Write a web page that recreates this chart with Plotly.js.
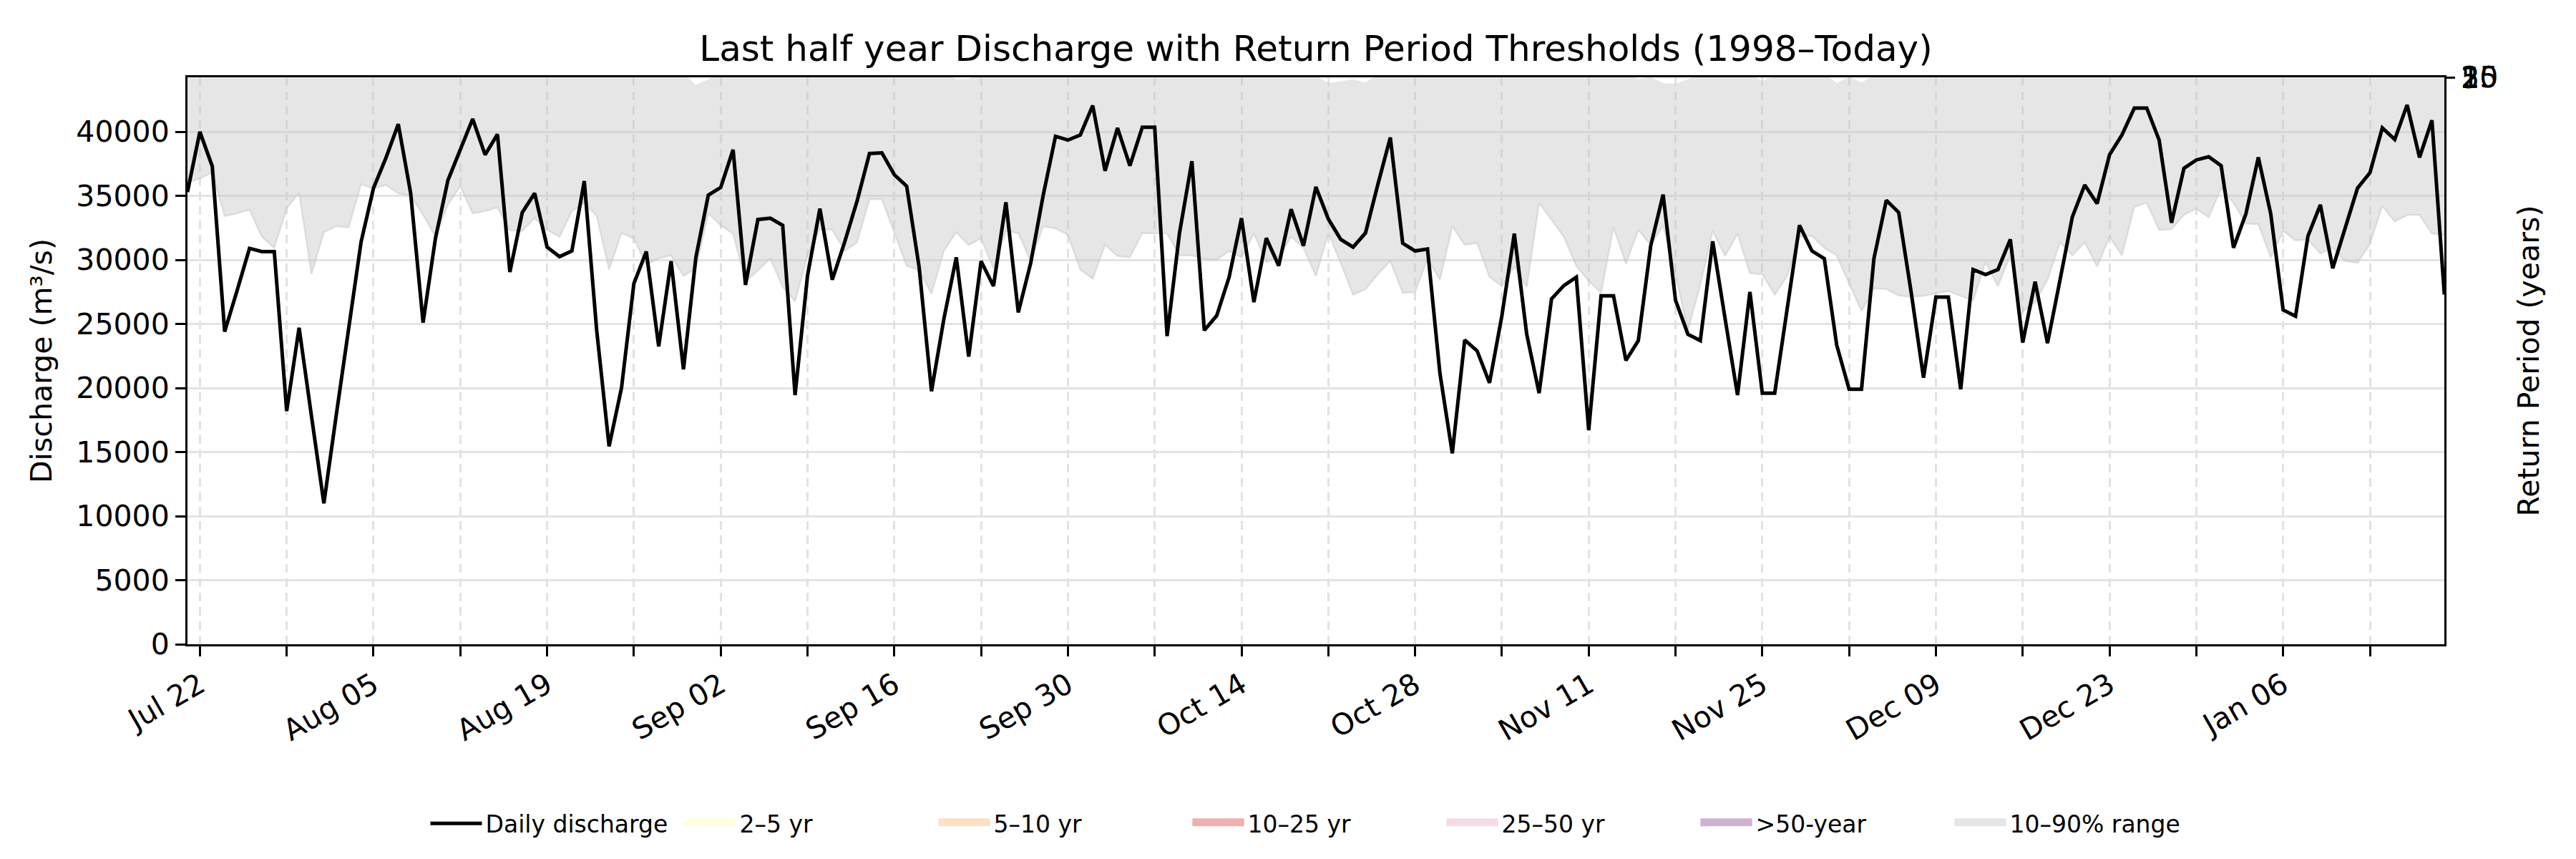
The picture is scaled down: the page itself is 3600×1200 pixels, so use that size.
<!DOCTYPE html>
<html>
<head>
<meta charset="utf-8">
<script src="https://cdn.plot.ly/plotly-3.0.1.min.js"></script>
<style>html,body{margin:0;padding:0;background:#fff;}#chart{width:3600px;height:1200px;}</style>
</head>
<body>
<div id="chart"></div>
<script>
// ---- data ----
const startDate = '2024-07-21';   // first day of the series (daily values)

const dailyDischarge = [
35300,40000,37300,24400,27600,30900,30650,30650,18200,24700,
17800,11000,17900,24600,31400,35600,37950,40600,35200,25100,
31700,36200,38550,41000,38200,39800,29050,33700,35200,31000,
30250,30700,36150,24500,15450,20000,28150,30650,23250,29900,
21450,30200,35050,35650,38600,28050,33150,33250,32700,19450,
28750,34000,28450,31400,34600,38300,38350,36650,35750,29450,
19750,25400,30200,22450,29900,27950,34500,25900,29750,35000,
39650,39350,39750,42050,36950,40300,37350,40350,40350,24050,
32100,37700,24500,25650,28650,33250,26700,31700,29550,33950,
31100,35700,33200,31600,31000,32100,35900,39550,31300,30700,
30850,21150,14900,23750,22900,20400,25650,32050,24200,19600,
26950,28000,28650,16700,27200,27200,22150,23700,31100,35100,
26850,24200,23700,31450,25400,19450,27500,19600,19600,25950,
32700,30700,30100,23350,19900,19900,30100,34650,33700,27500,
20800,27100,27100,19900,29250,28850,29250,31600,23550,28300,
23500,28400,33350,35850,34400,38200,39750,41850,41850,39350,
32900,37150,37800,38050,37350,30950,33600,38000,33600,26100,
25600,31850,34300,29350,32450,35600,36800,40300,39400,42100,
38000,40900,27300
];

const p10 = [
36050,36340,36840,33420,33630,33920,31810,30940,34010,35260,
28890,32160,32630,32540,35910,35560,35850,35180,35030,33510,
31810,34300,35760,33630,33800,34100,32300,32250,33270,32340,
31810,33800,34450,33420,29240,32100,31670,29620,30120,30350,
28740,29330,33630,32690,32050,28310,29180,30120,27870,26780,
30350,32400,32350,30700,31370,34740,34740,32100,29530,29180,
27370,30700,32160,31170,31670,29330,32250,32100,29910,32630,
32460,31960,29240,28540,31170,30290,30200,32100,32080,32050,
30350,30350,30060,30000,30700,30200,32050,29820,30200,31810,
30940,28740,32110,29770,27280,27720,28890,29910,27430,27490,
30120,28450,32630,31170,31320,28660,27950,29470,27870,34450,
33130,31810,29530,28360,27430,32540,29710,32340,31170,32690,
28890,24500,28070,32250,30290,32050,28950,28890,27280,28740,
31810,31870,30940,30350,28160,26020,27780,27720,27220,27130,
27190,27370,27570,27190,26840,29820,27950,30350,25960,26700,
28450,31370,30350,31370,29470,31810,30350,34150,34450,32340,
32400,33510,34000,33330,35610,34450,32840,32780,30200,32250,
31520,31580,30500,30940,29910,29770,31230,34210,32980,33510,
33510,32050,31960
];

const p90 = [
46500,47000,47500,46000,45800,45600,45500,45200,45600,46000,
45300,45500,45800,45900,46800,47200,47400,47100,46900,46400,
45900,46500,47000,46600,46700,46800,45700,45600,46000,45800,
45500,46000,46300,46000,45000,45500,45300,44800,45000,45100,
44600,43650,44100,44700,45200,44800,45000,45300,44900,44600,
45200,45700,45600,45100,45300,46400,46500,45700,45000,44800,
44700,44600,44100,44150,44600,44500,45200,45300,44900,45600,
45900,46000,45300,45100,45800,45500,45400,45900,45900,45700,
45100,45000,44900,44800,45000,44900,45400,44800,44700,45000,
44600,44400,43800,43950,44100,43850,44500,44800,44600,44700,
45200,44900,45600,45300,45200,44700,44600,44800,44600,45600,
45300,45000,44600,44500,44400,44600,44500,44100,44300,43800,
43750,44100,44600,45100,44800,45000,44500,43950,44400,44600,
45100,44900,44600,43800,44300,43850,44400,44600,44500,44600,
44500,44600,44700,44500,44500,45100,44700,45200,44500,44700,
45200,45800,45600,45800,45400,46000,45900,46600,46700,46100,
46200,46500,46700,46400,47000,46800,46200,46100,45500,45900,
45600,45600,45300,45400,45100,45100,45600,46400,46000,46300,
46300,45900,45800
];

const returnPeriodNames = ['2\u20135 yr','5\u201310 yr','10\u201325 yr','25\u201350 yr','>50-year'];
const returnPeriodFill  = ['#ffffdf','#fde1c4','#efb0b0','#f5dbe7','#cfb2d3'];
const returnPeriodTicks = ['2','5','10','25','50'];
const bandName = '10\u201390% range';
const bandFill = '#e6e6e6';

const weekTickVals = [
'2024-07-22','2024-07-29','2024-08-05','2024-08-12','2024-08-19','2024-08-26',
'2024-09-02','2024-09-09','2024-09-16','2024-09-23','2024-09-30','2024-10-07',
'2024-10-14','2024-10-21','2024-10-28','2024-11-04','2024-11-11','2024-11-18',
'2024-11-25','2024-12-02','2024-12-09','2024-12-16','2024-12-23','2024-12-30',
'2025-01-06','2025-01-13'
];
const weekTickText = [
'Jul 22','','Aug 05','','Aug 19','','Sep 02','','Sep 16','','Sep 30','',
'Oct 14','','Oct 28','','Nov 11','','Nov 25','','Dec 09','','Dec 23','',
'Jan 06',''
];

// ---- dates ----
function isoDay(base, k){
  const d = new Date(base + 'T00:00:00Z');
  d.setUTCDate(d.getUTCDate() + k);
  return d.toISOString().slice(0,10);
}
const dates = dailyDischarge.map((_, i) => isoDay(startDate, i));

const FONT = 'DejaVu Sans, Liberation Sans, sans-serif';

const traces = [];
// 10-90% band
traces.push({
  x: dates, y: p90, type: 'scatter', mode: 'lines', legendgroup: 'band',
  line: {width: 0, color: 'rgba(0,0,0,0)'}, showlegend: false, hoverinfo: 'skip'
});
traces.push({
  x: dates, y: p10, type: 'scatter', mode: 'lines', name: bandName, legendgroup: 'band',
  fill: 'tonexty', fillcolor: 'rgba(195,195,195,0.42)', showlegend: false,
  line: {width: 2.5, color: 'rgba(195,195,195,0.45)'}
});
// return period classes (legend entries; no day reaches them in this window)
returnPeriodNames.forEach((nm, i) => {
  traces.push({
    x: [dates[0]], y: [null], type: 'scatter', mode: 'lines', name: nm,
    fill: 'toself', fillcolor: returnPeriodFill[i],
    line: {width: 10, color: returnPeriodFill[i]}, yaxis: 'y2', legendrank: 2 + i
  });
});
// legend key of the band
traces.push({
  x: [dates[0]], y: [null], type: 'scatter', mode: 'lines', name: bandName, legendgroup: 'band',
  fill: 'toself', fillcolor: bandFill, line: {width: 10, color: bandFill},
  yaxis: 'y2', legendrank: 7
});
// daily discharge
traces.push({
  x: dates, y: dailyDischarge, type: 'scatter', mode: 'lines', name: 'Daily discharge',
  line: {color: '#000000', width: 5}, legendrank: 1
});

const layout = {
  width: 3600, height: 1200,
  paper_bgcolor: '#ffffff', plot_bgcolor: '#ffffff',
  font: {family: FONT, size: 41, color: '#000'},
  margin: {l: 262, r: 184, t: 108, b: 300, pad: 0},
  title: {
    text: 'Last half year Discharge with Return Period Thresholds (1998\u2013Today)',
    font: {family: FONT, size: 50, color: '#000'},
    x: 0.5, xref: 'paper', xanchor: 'center',
    y: 1 - 67/1200, yref: 'container', yanchor: 'middle'
  },
  xaxis: {
    type: 'date', range: [dates[0], dates[dates.length - 1]],
    tickmode: 'array', tickvals: weekTickVals, ticktext: weekTickText,
    tickangle: -30, tickfont: {family: FONT, size: 41},
    ticks: 'outside', ticklen: 14, tickwidth: 3, tickcolor: '#000',
    showline: true, linecolor: '#000', linewidth: 3, mirror: true,
    showgrid: true, gridcolor: '#e2e2e2', gridwidth: 3, griddash: '12px,8px',
    zeroline: false
  },
  yaxis: {
    range: [0, 44250],
    tickmode: 'array',
    tickvals: [0,5000,10000,15000,20000,25000,30000,35000,40000],
    tickformat: 'd', tickfont: {family: FONT, size: 41},
    ticks: 'outside', ticklen: 14, tickwidth: 3, tickcolor: '#000',
    showline: true, linecolor: '#000', linewidth: 3, mirror: true,
    showgrid: true, gridcolor: '#e3e3e3', gridwidth: 3,
    zeroline: false,
    title: {text: 'Discharge (m\u00b3/s)', font: {family: FONT, size: 41}, standoff: 22}
  },
  yaxis2: {
    overlaying: 'y', side: 'right', range: [0, 1],
    tickmode: 'array', tickvals: [0.9996, 0.9997, 0.9998, 0.9999, 1.0],
    ticktext: returnPeriodTicks, tickfont: {family: FONT, size: 41},
    ticks: 'outside', ticklen: 14, tickwidth: 3, tickcolor: '#000',
    showline: false, showgrid: false, zeroline: false,
    title: {text: 'Return Period (years)', font: {family: FONT, size: 41}, standoff: 28}
  },
  legend: {
    orientation: 'h', x: 0.5, xanchor: 'center', y: -0.316, yanchor: 'middle',
    font: {family: FONT, size: 33, color: '#000'},
    bgcolor: 'rgba(0,0,0,0)', itemwidth: 72, traceorder: 'normal',
    entrywidth: 268, entrywidthmode: 'pixels'
  },
  showlegend: true
};

Plotly.newPlot('chart', traces, layout, {staticPlot: true, displayModeBar: false});
</script>
</body>
</html>
